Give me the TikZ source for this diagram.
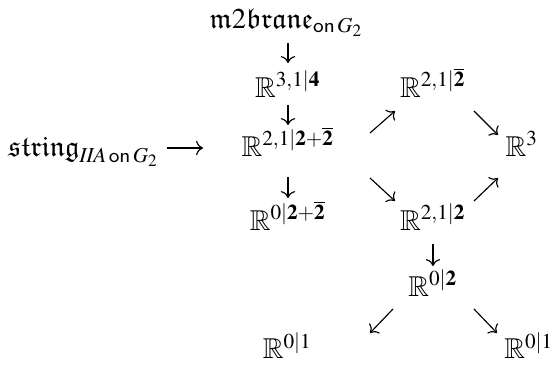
\documentclass[tikz,border=0pt]{standalone}
\usepackage{mathptmx}
\usepackage{amssymb}
\usetikzlibrary{arrows.meta}
\newcommand{\bb}{\overline{\mathbf{2}}}
\tikzset{
  lbl/.style={anchor=base, inner sep=0pt, outer sep=0pt},
  mor/.style={line width=0.4pt, -{To[length=2.4pt,width=5pt]}}
}
\begin{document}
\begin{tikzpicture}[x=0.3484pt, y=-0.3484pt]
\useasboundingbox (0,0) rectangle (550,366);
% objects
\node[lbl] (m2)     at (287,28)  {$\mathfrak{m}2\mathfrak{brane}_{\mathsf{on}\,G_2}$};
\node[lbl] (r314)   at (288,97)  {$\mathbb{R}^{3,1|\mathbf{4}}$};
\node[lbl] (r212b)  at (433,97)  {$\mathbb{R}^{2,1|\bb}$};
\node[lbl] (str)    at (84,156)  {$\mathfrak{string}_{\mathit{IIA}\,\mathsf{on}\,G_2}$};
\node[lbl] (r2122b) at (288,156) {$\mathbb{R}^{2,1|\mathbf{2}+\bb}$};
\node[lbl] (r3)     at (522,156) {$\mathbb{R}^{3}$};
\node[lbl] (r022b)  at (288,230) {$\mathbb{R}^{0|\mathbf{2}+\bb}$};
\node[lbl] (r212)   at (433,230) {$\mathbb{R}^{2,1|\mathbf{2}}$};
\node[lbl] (r02)    at (433,296) {$\mathbb{R}^{0|\mathbf{2}}$};
\node[lbl] (r01a)   at (287.5,359) {$\mathbb{R}^{0|1}$};
\node[lbl] (r01b)   at (529,359) {$\mathbb{R}^{0|1}$};
% morphisms
\draw[mor] ([shift={(1,15)}]m2.base) -- ([shift={(0,-34)}]r314.base);
\draw[mor] ([shift={(0,8)}]r314.base) -- ([shift={(0,-31)}]r2122b.base);
\draw[mor] ([shift={(0,21)}]r2122b.base) -- ([shift={(0,-32)}]r022b.base);
\draw[mor] ([shift={(83,-8)}]str.base) -- ([shift={(-85,-8)}]r2122b.base);
\draw[mor] ([shift={(82,-23)}]r2122b.base) -- ([shift={(-38,14)}]r212b.base);
\draw[mor] ([shift={(41,14)}]r212b.base) -- ([shift={(-24,-21)}]r3.base);
\draw[mor] ([shift={(82,22)}]r2122b.base) -- ([shift={(-38,-29)}]r212.base);
\draw[mor] ([shift={(41,-29)}]r212.base) -- ([shift={(-24,22)}]r3.base);
\draw[mor] ([shift={(0,14)}]r212.base) -- ([shift={(0,-30)}]r02.base);
\draw[mor] ([shift={(-40,13)}]r02.base) -- ([shift={(82.5,-26)}]r01a.base);
\draw[mor] ([shift={(41,13)}]r02.base) -- ([shift={(-32,-26)}]r01b.base);
\end{tikzpicture}
\end{document}
